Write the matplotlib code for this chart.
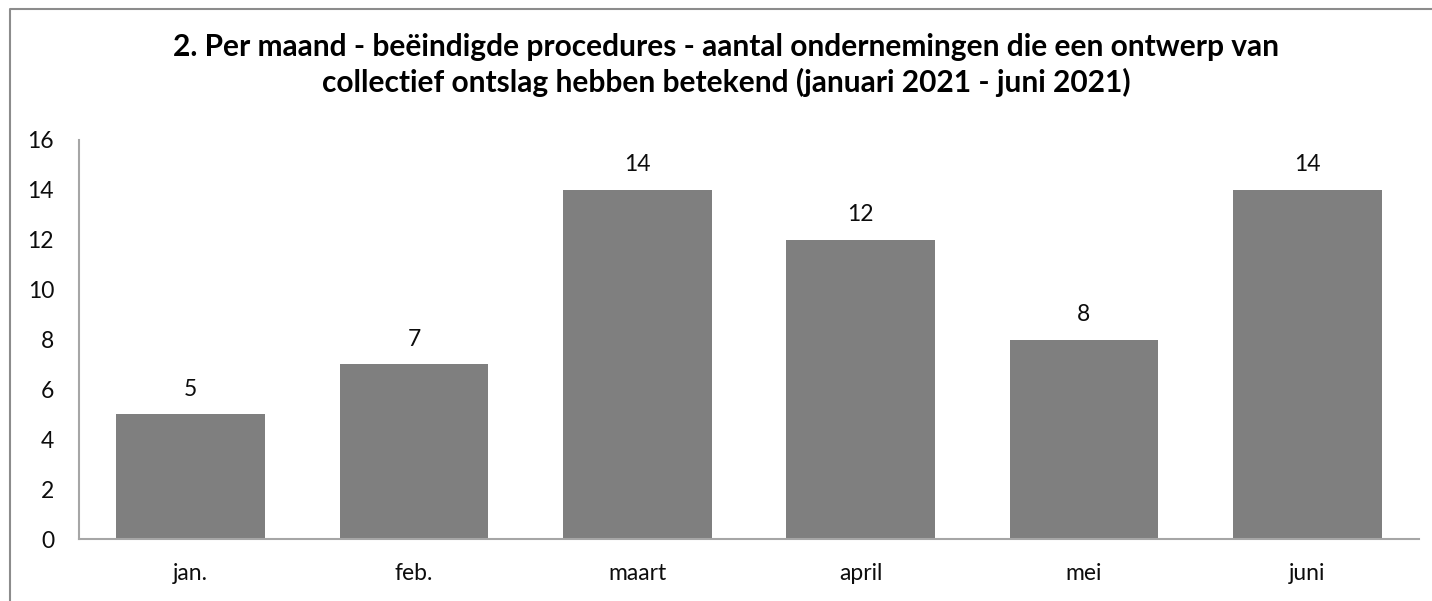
import matplotlib.pyplot as plt
from matplotlib.lines import Line2D

# data
months = ['jan.', 'feb.', 'maart', 'april', 'mei', 'juni']
counts = [5, 7, 14, 12, 8, 14]
y_ticks = [0, 2, 4, 6, 8, 10, 12, 14, 16]
title = ('2. Per maand - beëindigde procedures - aantal ondernemingen die een ontwerp van\n'
         'collectief ontslag hebben betekend (januari 2021 - juni 2021)')

plt.rcParams['font.family'] = ['Lato', 'DejaVu Sans']

W, H = 1432, 601
fig = plt.figure(figsize=(W / 100, H / 100), dpi=100)

# chart border: only top and left edges are visible in the crop
fig.lines.append(Line2D([10 / W, 10 / W, 1.0], [0, 1 - 9 / H, 1 - 9 / H],
                        transform=fig.transFigure, color='#8c8c8c', linewidth=1.5))

ax = fig.add_axes([79 / W, 1 - 539 / H, (1419 - 79) / W, (539 - 140) / H])
x = list(range(len(months)))
ax.bar(x, counts, width=0.665, color='#7f7f7f', zorder=2)

for xi, v in zip(x, counts):
    ax.annotate(str(v), (xi, v), xytext=(0, 18), textcoords='offset points',
                ha='center', va='center', fontsize=16.5, color='#0d0d0d')

ax.set_xlim(-0.5, len(months) - 0.5)
ax.set_ylim(0, 16)
ax.set_xticks(x)
ax.set_xticklabels(months)
ax.set_yticks(y_ticks)
ax.tick_params(axis='both', length=0, labelsize=16.5, colors='#0d0d0d')
ax.tick_params(axis='y', pad=18)
ax.tick_params(axis='x', pad=17)

for side in ['top', 'right']:
    ax.spines[side].set_visible(False)
for side in ['left', 'bottom']:
    ax.spines[side].set_color('#a6a6a6')
    ax.spines[side].set_linewidth(1.5)

fig.text(726 / W, 1 - 65 / H, title, ha='center', va='center', fontsize=21.5,
         fontweight='bold', linespacing=1.3, color='#000000')

fig.savefig('out.png', dpi=100)
